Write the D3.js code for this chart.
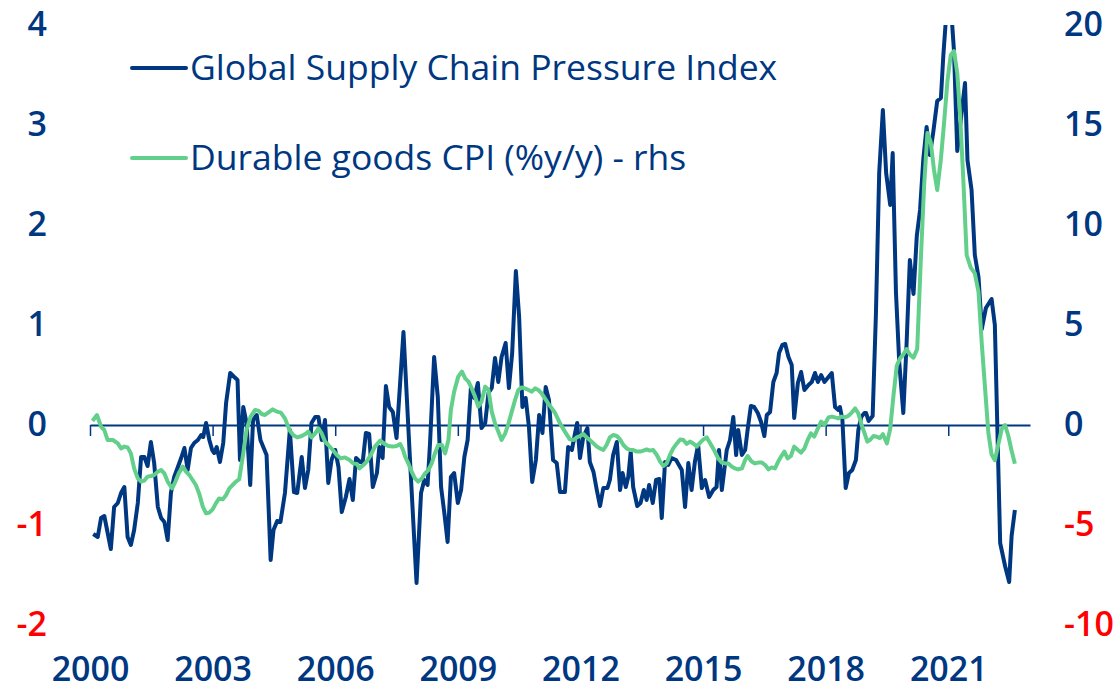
<!DOCTYPE html>
<html>
<head>
<meta charset="utf-8">
<script src="https://cdn.jsdelivr.net/npm/d3@7"></script>
<style>
    body { margin: 0; background: #fff; }
    text { font-family: "Open Sans", sans-serif; }
</style>
</head>
<body>
<div id="vis"></div>
<script>
const blue = "#003781";
const green = "#62cf8b";
const red = "#ff0000";

// [year, value]
const gscpi = [[2000.08,-1.09],[2000.19,-1.12],[2000.27,-0.93],[2000.35,-0.91],[2000.51,-1.24],[2000.59,-0.82],[2000.68,-0.78],[2000.76,-0.68],[2000.84,-0.62],[2000.92,-1.12],[2001.00,-1.20],[2001.08,-1.05],[2001.17,-0.78],[2001.25,-0.32],[2001.33,-0.32],[2001.41,-0.41],[2001.49,-0.17],[2001.57,-0.38],[2001.66,-0.82],[2001.74,-0.93],[2001.82,-0.97],[2001.90,-1.15],[2001.98,-0.68],[2002.06,-0.52],[2002.15,-0.42],[2002.23,-0.33],[2002.31,-0.23],[2002.39,-0.45],[2002.47,-0.23],[2002.55,-0.18],[2002.64,-0.15],[2002.72,-0.10],[2002.77,-0.12],[2002.84,0.02],[2002.92,-0.15],[2002.99,-0.25],[2003.04,-0.28],[2003.10,-0.22],[2003.18,-0.37],[2003.26,-0.18],[2003.33,0.22],[2003.43,0.52],[2003.53,0.48],[2003.61,0.45],[2003.67,-0.35],[2003.75,0.18],[2003.83,0.02],[2003.92,-0.60],[2003.99,0.05],[2004.08,0.10],[2004.17,-0.15],[2004.32,-0.30],[2004.42,-1.35],[2004.49,-1.05],[2004.58,-0.96],[2004.66,-0.97],[2004.77,-0.68],[2004.89,-0.05],[2004.99,-0.67],[2005.07,-0.68],[2005.18,-0.32],[2005.26,-0.63],[2005.34,-0.45],[2005.42,0.02],[2005.51,0.08],[2005.59,0.08],[2005.67,-0.15],[2005.75,0.05],[2005.83,-0.58],[2005.91,-0.35],[2006.00,-0.25],[2006.08,-0.42],[2006.16,-0.87],[2006.26,-0.72],[2006.35,-0.54],[2006.43,-0.75],[2006.51,-0.33],[2006.61,-0.37],[2006.67,-0.38],[2006.75,-0.08],[2006.83,-0.09],[2006.92,-0.62],[2007.02,-0.48],[2007.08,-0.22],[2007.16,-0.33],[2007.24,0.39],[2007.32,0.18],[2007.41,0.13],[2007.50,-0.13],[2007.67,0.93],[2007.83,-0.35],[2007.99,-1.58],[2008.10,-0.68],[2008.18,-0.55],[2008.26,-0.60],[2008.32,-0.18],[2008.42,0.68],[2008.51,0.28],[2008.59,-0.62],[2008.67,-0.88],[2008.75,-1.17],[2008.83,-0.52],[2008.91,-0.48],[2009.00,-0.78],[2009.08,-0.65],[2009.16,-0.32],[2009.24,-0.15],[2009.32,0.37],[2009.40,0.27],[2009.49,0.42],[2009.58,-0.03],[2009.67,0.02],[2009.75,0.32],[2009.83,0.37],[2009.91,0.67],[2009.99,0.43],[2010.07,0.68],[2010.17,0.82],[2010.25,0.37],[2010.33,0.72],[2010.42,1.54],[2010.50,1.08],[2010.58,0.18],[2010.66,0.27],[2010.74,-0.02],[2010.82,-0.57],[2010.91,-0.35],[2010.99,0.10],[2011.07,-0.08],[2011.15,0.38],[2011.23,0.25],[2011.33,-0.35],[2011.42,-0.38],[2011.50,-0.67],[2011.62,-0.67],[2011.70,-0.22],[2011.79,-0.25],[2011.87,-0.08],[2011.92,0.02],[2011.99,-0.33],[2012.07,-0.12],[2012.17,-0.03],[2012.23,-0.37],[2012.32,-0.47],[2012.40,-0.65],[2012.48,-0.81],[2012.56,-0.63],[2012.66,-0.63],[2012.72,-0.55],[2012.80,-0.30],[2012.89,-0.17],[2012.97,-0.65],[2013.03,-0.48],[2013.11,-0.62],[2013.17,-0.52],[2013.23,-0.27],[2013.29,-0.62],[2013.39,-0.81],[2013.47,-0.78],[2013.55,-0.65],[2013.62,-0.75],[2013.68,-0.60],[2013.77,-0.78],[2013.85,-0.55],[2013.93,-0.54],[2013.99,-0.93],[2014.07,-0.37],[2014.15,-0.40],[2014.23,-0.33],[2014.34,-0.35],[2014.48,-0.45],[2014.56,-0.82],[2014.64,-0.38],[2014.72,-0.65],[2014.80,-0.37],[2014.88,-0.20],[2014.97,-0.63],[2015.05,-0.55],[2015.15,-0.72],[2015.25,-0.65],[2015.33,-0.62],[2015.39,-0.25],[2015.46,-0.65],[2015.52,-0.45],[2015.58,-0.25],[2015.66,-0.15],[2015.74,0.08],[2015.81,-0.30],[2015.86,-0.05],[2015.95,-0.30],[2016.03,-0.25],[2016.09,-0.05],[2016.17,0.19],[2016.25,0.18],[2016.34,0.12],[2016.42,0.03],[2016.50,-0.11],[2016.56,0.10],[2016.64,0.13],[2016.72,0.43],[2016.80,0.52],[2016.86,0.72],[2016.94,0.80],[2017.01,0.81],[2017.09,0.68],[2017.17,0.60],[2017.23,0.07],[2017.32,0.42],[2017.40,0.53],[2017.48,0.35],[2017.58,0.40],[2017.66,0.43],[2017.74,0.52],[2017.81,0.43],[2017.89,0.50],[2017.97,0.43],[2018.07,0.48],[2018.15,0.52],[2018.23,0.18],[2018.31,0.15],[2018.35,0.18],[2018.41,0.05],[2018.49,-0.63],[2018.57,-0.48],[2018.65,-0.45],[2018.74,-0.35],[2018.80,-0.05],[2018.87,0.08],[2018.95,0.12],[2018.99,0.12],[2019.05,0.04],[2019.15,0.09],[2019.23,1.11],[2019.31,2.52],[2019.40,3.15],[2019.48,2.52],[2019.58,2.20],[2019.64,2.72],[2019.72,1.33],[2019.80,0.63],[2019.90,0.12],[2019.98,0.81],[2020.06,1.65],[2020.15,1.31],[2020.23,1.89],[2020.31,2.15],[2020.39,2.66],[2020.47,2.98],[2020.55,2.70],[2020.63,2.92],[2020.73,3.24],[2020.82,3.27],[2020.88,3.70],[2020.95,4.10],[2021.02,4.30],[2021.08,4.10],[2021.14,3.74],[2021.22,2.74],[2021.41,3.42],[2021.47,2.65],[2021.57,2.35],[2021.65,1.70],[2021.74,1.48],[2021.82,0.96],[2021.92,1.17],[2022.06,1.26],[2022.14,1.00],[2022.27,-1.18],[2022.39,-1.41],[2022.49,-1.57],[2022.55,-1.11],[2022.63,-0.85]];

const durableCpi = [[2000.06,0.20],[2000.17,0.50],[2000.27,-0.08],[2000.35,-0.25],[2000.43,-0.75],[2000.56,-0.75],[2000.68,-0.92],[2000.76,-1.17],[2000.84,-1.08],[2000.92,-1.12],[2001.00,-1.42],[2001.08,-2.17],[2001.17,-2.67],[2001.25,-2.83],[2001.33,-2.78],[2001.41,-2.58],[2001.49,-2.55],[2001.57,-2.50],[2001.66,-2.33],[2001.74,-2.25],[2001.82,-2.42],[2001.90,-2.83],[2002.01,-3.17],[2002.09,-2.83],[2002.17,-2.42],[2002.27,-2.08],[2002.35,-2.33],[2002.43,-2.50],[2002.51,-2.75],[2002.59,-3.00],[2002.67,-3.42],[2002.76,-4.08],[2002.84,-4.42],[2002.92,-4.38],[2003.00,-4.22],[2003.08,-3.92],[2003.16,-3.67],[2003.25,-3.72],[2003.33,-3.50],[2003.41,-3.17],[2003.49,-3.00],[2003.57,-2.83],[2003.65,-2.72],[2003.75,-1.42],[2003.83,-0.25],[2003.93,0.42],[2004.04,0.75],[2004.12,0.72],[2004.20,0.55],[2004.28,0.50],[2004.36,0.62],[2004.47,0.78],[2004.57,0.67],[2004.67,0.62],[2004.77,0.33],[2004.88,-0.25],[2004.97,-0.50],[2005.07,-0.62],[2005.18,-0.55],[2005.29,-0.42],[2005.34,-0.33],[2005.42,-0.62],[2005.51,-0.42],[2005.59,-0.17],[2005.67,-0.42],[2005.75,-0.83],[2005.83,-1.00],[2005.94,-1.25],[2006.04,-1.50],[2006.13,-1.67],[2006.24,-1.62],[2006.35,-1.75],[2006.44,-1.92],[2006.53,-1.95],[2006.59,-2.17],[2006.69,-2.00],[2006.77,-1.83],[2006.87,-1.50],[2006.97,-1.08],[2007.10,-0.78],[2007.19,-0.92],[2007.30,-1.05],[2007.41,-1.08],[2007.50,-1.05],[2007.59,-0.95],[2007.66,-1.25],[2007.71,-1.58],[2007.79,-1.92],[2007.87,-2.33],[2007.95,-2.67],[2008.03,-2.83],[2008.12,-2.67],[2008.20,-2.42],[2008.28,-2.25],[2008.36,-1.92],[2008.44,-1.42],[2008.52,-1.00],[2008.61,-1.00],[2008.69,-1.42],[2008.77,-0.75],[2008.83,0.75],[2008.91,1.67],[2009.01,2.42],[2009.10,2.67],[2009.18,2.33],[2009.26,2.17],[2009.34,1.83],[2009.42,1.42],[2009.50,0.92],[2009.58,1.17],[2009.67,1.92],[2009.75,1.75],[2009.83,0.67],[2009.91,0.08],[2009.99,-0.33],[2010.07,-0.75],[2010.16,-0.42],[2010.24,0.08],[2010.32,0.67],[2010.40,1.25],[2010.48,1.75],[2010.56,1.88],[2010.64,1.83],[2010.73,1.75],[2010.81,1.67],[2010.89,1.83],[2010.97,1.75],[2011.05,1.58],[2011.13,1.33],[2011.21,1.08],[2011.30,0.83],[2011.38,0.60],[2011.50,0.08],[2011.62,-0.33],[2011.74,-0.72],[2011.83,-0.75],[2011.91,-0.62],[2011.99,-0.55],[2012.07,-0.45],[2012.15,-0.62],[2012.23,-0.75],[2012.32,-0.92],[2012.40,-1.08],[2012.48,-1.17],[2012.56,-1.25],[2012.64,-1.00],[2012.72,-0.62],[2012.80,-0.50],[2012.89,-0.55],[2012.97,-0.72],[2013.05,-1.00],[2013.13,-1.17],[2013.21,-1.25],[2013.29,-1.25],[2013.38,-1.33],[2013.46,-1.33],[2013.54,-1.28],[2013.62,-1.22],[2013.70,-1.28],[2013.78,-1.25],[2013.87,-1.50],[2013.95,-1.83],[2014.03,-2.05],[2014.11,-1.92],[2014.19,-1.50],[2014.27,-1.17],[2014.36,-0.92],[2014.44,-0.72],[2014.52,-0.75],[2014.60,-0.95],[2014.68,-0.83],[2014.76,-0.92],[2014.85,-1.08],[2014.93,-0.88],[2015.01,-0.72],[2015.09,-0.62],[2015.17,-0.90],[2015.29,-1.33],[2015.37,-1.67],[2015.46,-1.88],[2015.54,-1.92],[2015.62,-1.92],[2015.70,-2.08],[2015.78,-2.17],[2015.86,-2.22],[2015.95,-2.17],[2016.03,-1.75],[2016.09,-1.55],[2016.19,-1.83],[2016.27,-1.92],[2016.35,-1.88],[2016.44,-1.88],[2016.52,-2.00],[2016.60,-2.22],[2016.68,-2.12],[2016.76,-2.17],[2016.84,-1.83],[2016.91,-1.58],[2016.99,-1.33],[2017.07,-1.67],[2017.15,-1.55],[2017.23,-1.08],[2017.32,-1.25],[2017.40,-1.38],[2017.48,-1.17],[2017.56,-0.75],[2017.64,-0.42],[2017.72,-0.58],[2017.81,-0.17],[2017.89,0.17],[2017.97,0.00],[2018.07,0.38],[2018.15,0.42],[2018.23,0.38],[2018.31,0.33],[2018.39,0.42],[2018.47,0.38],[2018.55,0.45],[2018.64,0.62],[2018.72,0.83],[2018.80,0.58],[2018.88,0.00],[2018.95,-0.40],[2019.02,-0.83],[2019.09,-0.74],[2019.17,-0.55],[2019.25,-0.59],[2019.33,-0.65],[2019.40,-0.46],[2019.50,-0.92],[2019.58,-0.19],[2019.66,1.48],[2019.74,2.96],[2019.82,3.33],[2019.90,3.52],[2019.98,3.80],[2020.06,3.52],[2020.15,3.37],[2020.24,3.80],[2020.33,8.33],[2020.41,12.00],[2020.49,14.60],[2020.57,14.15],[2020.65,12.77],[2020.73,11.75],[2020.82,13.30],[2020.90,15.17],[2020.98,17.20],[2021.06,18.50],[2021.14,18.70],[2021.22,17.60],[2021.29,15.50],[2021.37,12.20],[2021.45,8.50],[2021.55,7.87],[2021.65,7.58],[2021.74,6.66],[2021.82,4.07],[2021.90,1.85],[2021.98,-0.37],[2022.06,-1.48],[2022.14,-1.76],[2022.23,-0.92],[2022.31,-0.19],[2022.39,0.00],[2022.47,-0.55],[2022.55,-1.29],[2022.63,-1.94]];

const xTicks = [2000, 2003, 2006, 2009, 2012, 2015, 2018, 2021];
const leftTicks = [-2, -1, 0, 1, 2, 3, 4];
const rightTicks = [-10, -5, 0, 5, 10, 15, 20];
const seriesNames = ["Global Supply Chain Pressure Index", "Durable goods CPI (%y/y) - rhs"];

function vis() {
    const width = 1119;
    const height = 688;
    const margin = {
        left: 90,
        top: 25,
        right: 89,
        bottom: 63
    };

    const svg = d3.select("#vis")
        .append("svg")
        .attr("width", width)
        .attr("height", height)
        .attr("viewBox", `0 0 ${width} ${height}`);

    const x = d3.scaleLinear()
        .domain([2000, 2023])
        .range([margin.left, width - margin.right]);
    const yLeft = d3.scaleLinear()
        .domain([-2, 4])
        .range([height - margin.bottom, margin.top]);
    const yRight = d3.scaleLinear()
        .domain([-10, 20])
        .range([height - margin.bottom, margin.top]);

    // plain hyphen for negatives, like the original
    const fmt = d => String(d);

    const styleLabels = sel => sel
        .style("font-family", "Open Sans")
        .style("font-size", "34px")
        .style("font-weight", 600)
        .style("fill", d => d < 0 ? red : blue);

    // zero line with small ticks hanging down
    const zeroAxis = svg.append("g")
        .attr("transform", `translate(0, ${yLeft(0)})`)
        .call(d3.axisBottom(x).tickValues(xTicks).tickSize(11).tickSizeOuter(0).tickFormat(""));
    zeroAxis.select(".domain").attr("stroke", blue).attr("stroke-width", 2);
    zeroAxis.selectAll(".tick line").attr("stroke", blue).attr("stroke-width", 1.5);

    // year labels at the bottom
    const bottomAxis = svg.append("g")
        .attr("transform", `translate(0, ${height - 19})`)
        .call(d3.axisBottom(x).tickValues(xTicks).tickSize(0).tickFormat(fmt));
    bottomAxis.select(".domain").remove();
    bottomAxis.selectAll("text")
        .attr("y", 0)
        .attr("dy", "0.35em")
        .call(styleLabels);

    const leftAxis = svg.append("g")
        .attr("transform", "translate(47, 0)")
        .call(d3.axisLeft(yLeft).tickValues(leftTicks).tickSize(0).tickPadding(0).tickFormat(fmt));
    leftAxis.select(".domain").remove();
    leftAxis.selectAll("text").call(styleLabels);

    const rightAxis = svg.append("g")
        .attr("transform", "translate(1064, 0)")
        .call(d3.axisRight(yRight).tickValues(rightTicks).tickSize(0).tickPadding(0).tickFormat(fmt));
    rightAxis.select(".domain").remove();
    rightAxis.selectAll("text").call(styleLabels);

    svg.append("clipPath")
        .attr("id", "plot-clip")
        .append("rect")
            .attr("x", 0)
            .attr("y", margin.top)
            .attr("width", width)
            .attr("height", height - margin.top);

    const lineLeft = d3.line()
        .x(d => x(d[0]))
        .y(d => yLeft(d[1]));
    const lineRight = d3.line()
        .x(d => x(d[0]))
        .y(d => yRight(d[1]));

    svg.append("path")
        .datum(gscpi)
        .attr("clip-path", "url(#plot-clip)")
        .attr("fill", "none")
        .attr("stroke", blue)
        .attr("stroke-width", 4)
        .attr("stroke-linejoin", "round")
        .attr("d", lineLeft);

    svg.append("path")
        .datum(durableCpi)
        .attr("fill", "none")
        .attr("stroke", green)
        .attr("stroke-width", 4)
        .attr("stroke-linejoin", "round")
        .attr("d", lineRight);

    // legend
    const legend = svg.selectAll(".legend")
        .data(seriesNames)
        .join("g")
            .attr("class", "legend")
            .attr("transform", (_, i) => `translate(132, ${68 + i * 90})`);

    legend.append("line")
        .attr("x1", 0)
        .attr("x2", 54)
        .attr("stroke", (_, i) => i === 0 ? blue : green)
        .attr("stroke-width", 4)
        .attr("stroke-linecap", "round");

    legend.append("text")
        .attr("x", 58)
        .attr("dy", "0.35em")
        .style("font-family", "Open Sans")
        .style("font-size", "35.5px")
        .style("font-weight", 500)
        .style("fill", blue)
        .text(d => d);
}

vis();
</script>
</body>
</html>
